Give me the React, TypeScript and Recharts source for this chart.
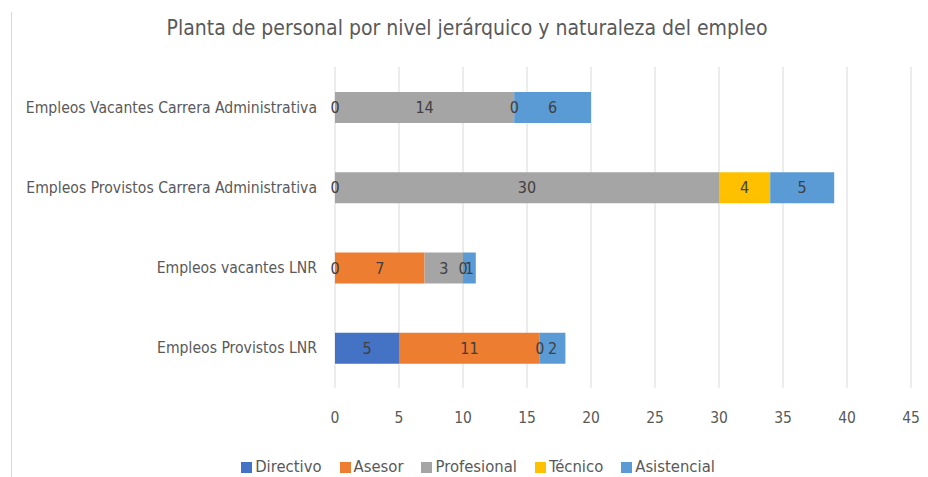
import React from "react";
import { BarChart, Bar, XAxis, YAxis, CartesianGrid, LabelList } from "recharts";

const categories = [
  "Empleos Vacantes Carrera Administrativa",
  "Empleos Provistos Carrera Administrativa",
  "Empleos vacantes LNR",
  "Empleos Provistos LNR",
];
const directivo = [null, null, 0, 5];
const asesor = [0, 0, 7, 11];
const profesional = [14, 30, 3, 0];
const tecnico = [0, 4, 0, null];
const asistencial = [6, 5, 1, 2];
const xTicks = [0, 5, 10, 15, 20, 25, 30, 35, 40, 45];

const series = [
  { key: "Directivo", values: directivo, color: "#4472C4" },
  { key: "Asesor", values: asesor, color: "#ED7D31" },
  { key: "Profesional", values: profesional, color: "#A5A5A5" },
  { key: "Técnico", values: tecnico, color: "#FFC000" },
  { key: "Asistencial", values: asistencial, color: "#5B9BD5" },
];

const data = categories.map((name, i) => {
  const row: any = { name };
  series.forEach((s) => {
    row[s.key] = s.values[i];
  });
  return row;
});

const FONT = "'DejaVu Sans Condensed', 'Liberation Sans Narrow', 'Liberation Sans', sans-serif";

const renderValue = (props: any) => {
  const { x, y, width, height, value } = props;
  if (value === null || value === undefined) return null;
  return (
    <text
      x={Number(x) + Number(width) / 2}
      y={Number(y) + Number(height) / 2}
      textAnchor="middle"
      dominantBaseline="central"
      fill="#404040"
      fontSize={16}
      fontFamily={FONT}
    >
      {value}
    </text>
  );
};

const zeroMin = (vals: (number | null)[]) => (_v: any, i: number) => (vals[i] === 0 ? 0.01 : 0);

export default function App() {
  return (
    <div style={{ position: "relative", width: 928, height: 477, marginTop: -8, marginLeft: -8, background: "#fff", fontFamily: FONT }}>
      <div style={{ position: "absolute", left: 11, top: 12, width: 1, height: 465, background: "#d9d9d9" }} />
      <div
        style={{
          position: "absolute",
          left: 0,
          width: 934,
          top: 16,
          textAlign: "center",
          fontSize: 21,
          color: "#595959",
        }}
      >
        Planta de personal por nivel jerárquico y naturaleza del empleo
      </div>
      <BarChart
        width={928}
        height={477}
        data={data}
        layout="vertical"
        margin={{ top: 67, right: 17, left: 0, bottom: 49 }}
        barSize={31}
        style={{ position: "absolute", left: 0, top: 0 }}
      >
        <CartesianGrid horizontal={false} stroke="#d9d9d9" />
        <XAxis
          type="number"
          domain={[0, 45]}
          ticks={xTicks}
          axisLine={false}
          tickLine={false}
          height={40}
          tickMargin={18}
          tick={{ fill: "#595959", fontSize: 15.5, fontFamily: FONT }}
        />
        <YAxis
          type="category"
          dataKey="name"
          width={335}
          axisLine={false}
          tickLine={false}
          tickMargin={12}
          tick={{ fill: "#595959", fontSize: 15.6, fontFamily: FONT }}
        />
        {series.map((s) => (
          <Bar
            key={s.key}
            dataKey={s.key}
            stackId="a"
            fill={s.color}
            minPointSize={zeroMin(s.values) as any}
            isAnimationActive={false}
          >
            <LabelList dataKey={s.key} content={renderValue} />
          </Bar>
        ))}
      </BarChart>
      <div
        style={{
          position: "absolute",
          top: 457,
          left: 0,
          width: 956,
          display: "flex",
          justifyContent: "center",
          gap: 18,
          fontSize: 16.5,
          lineHeight: "20px",
          color: "#595959",
        }}
      >
        {series.map((s) => (
          <div key={s.key} style={{ display: "flex", alignItems: "center", gap: 3 }}>
            <span style={{ display: "inline-block", width: 11, height: 11, background: s.color }} />
            <span>{s.key}</span>
          </div>
        ))}
      </div>
    </div>
  );
}
